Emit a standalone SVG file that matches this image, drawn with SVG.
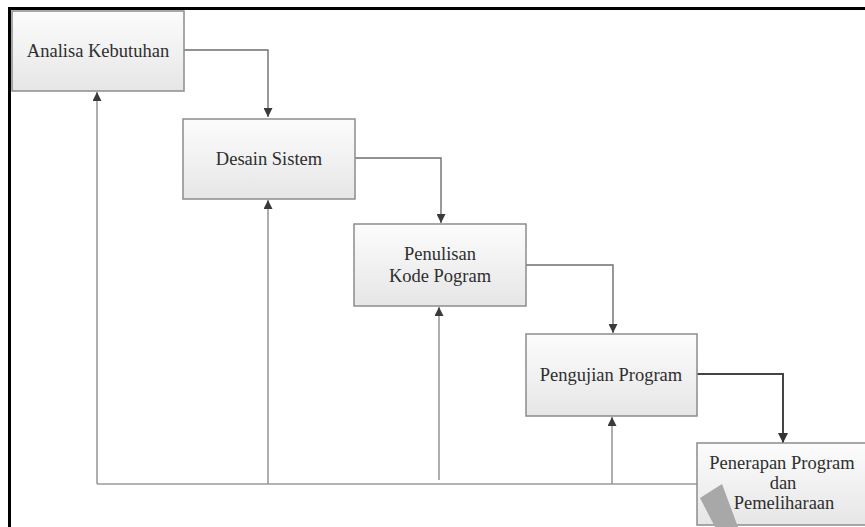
<svg xmlns="http://www.w3.org/2000/svg" width="865" height="527" viewBox="0 0 865 527">
<defs>
<linearGradient id="g" x1="0" y1="0" x2="0" y2="1">
<stop offset="0" stop-color="#fcfcfc"/>
<stop offset="1" stop-color="#e6e6e6"/>
</linearGradient>
<marker id="ah" viewBox="0 0 10 10" refX="10" refY="5" markerWidth="9" markerHeight="9" markerUnits="userSpaceOnUse" orient="auto">
<path d="M0,0 L10,5 L0,10 Z" fill="#3a3a3a"/>
</marker>
<marker id="ah2" viewBox="0 0 10 10" refX="10" refY="5" markerWidth="10" markerHeight="10" markerUnits="userSpaceOnUse" orient="auto">
<path d="M0,0 L10,5 L0,10 Z" fill="#333"/>
</marker>
</defs>
<style>
.box{fill:url(#g);stroke:#8c8c8c;stroke-width:1.5}
.t{font-family:"Liberation Serif","Times New Roman",serif;font-size:18.5px;fill:#2e2e2e;text-anchor:middle}
.c{fill:none;stroke:#6e6e6e;stroke-width:1.4}
.f{fill:none;stroke:#9a9a9a;stroke-width:1.6}
</style>
<rect width="865" height="527" fill="#ffffff"/>
<g id="frame">
<line x1="8" y1="8.5" x2="865" y2="8.5" stroke="#000" stroke-width="3"/>
<line x1="9.5" y1="7" x2="9.5" y2="527" stroke="#000" stroke-width="3"/>
</g>
<g id="connectors">
<path class="c" d="M184,50 H268 V117" marker-end="url(#ah)"/>
<path class="c" d="M355,158 H441 V223" marker-end="url(#ah)"/>
<path class="c" d="M526,265 H613 V333" marker-end="url(#ah)"/>
<path d="M697,374 H783 V443" fill="none" stroke="#444" stroke-width="2" marker-end="url(#ah2)"/>
<path class="f" d="M697,484 H97"/>
<path class="f" d="M97,484 V92" marker-end="url(#ah)"/>
<path class="f" d="M268,484 V200" marker-end="url(#ah)"/>
<path class="f" d="M439,480 V307" marker-end="url(#ah)"/>
<path class="f" d="M612,484 V417" marker-end="url(#ah)"/>
</g>
<g id="n1">
<rect class="box" x="12" y="11" width="172" height="80"/>
<text class="t" x="98" y="57">Analisa Kebutuhan</text>
</g>
<g id="n2">
<rect class="box" x="183" y="119" width="172" height="80"/>
<text class="t" x="269" y="165">Desain Sistem</text>
</g>
<g id="n3">
<rect class="box" x="354" y="224" width="172" height="82"/>
<text class="t" x="440" y="260">Penulisan</text>
<text class="t" x="440" y="282">Kode Pogram</text>
</g>
<g id="n4">
<rect class="box" x="526" y="334" width="171" height="82"/>
<text class="t" x="611" y="381">Pengujian Program</text>
</g>
<g id="n5">
<rect class="box" x="697" y="443" width="170" height="82"/>
<polygon points="700,498 722,484 738,527 715,527" fill="#a8a8a8"/>
<text class="t" x="782" y="469">Penerapan Program</text>
<text class="t" x="783" y="489">dan</text>
<text class="t" x="784" y="509">Pemeliharaan</text>
</g>
</svg>
